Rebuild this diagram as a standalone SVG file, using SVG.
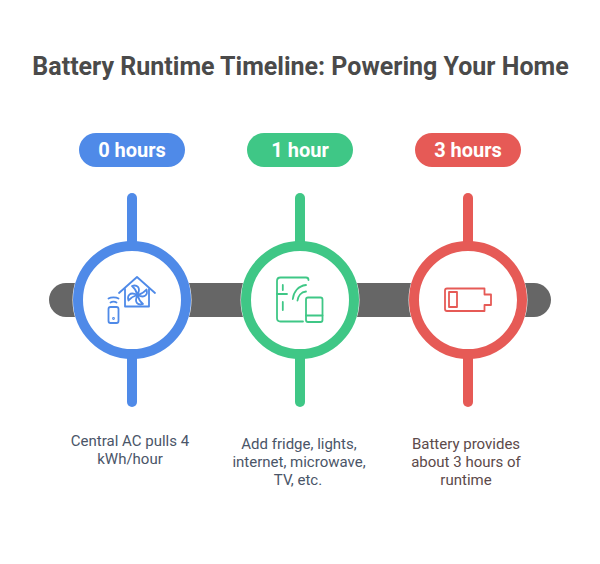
<svg xmlns="http://www.w3.org/2000/svg" width="600" height="564" viewBox="0 0 600 564">
<style>
text{font-family:Roboto,"Liberation Sans",sans-serif;text-anchor:middle}
.title{font-size:25px;font-weight:700;fill:#4a4a4a}
.pill{font-size:20px;font-weight:700;fill:#fff}
.d{font-size:15px}
.ic{fill:none;stroke-width:1.8;stroke-linecap:round;stroke-linejoin:round}
.ring{fill:#fff;stroke-width:10}
.stem{stroke-width:10;stroke-linecap:round}
.halo{fill:#fff}
</style>
<defs><path id="blade" d="M0 0C-1 -4 -3 -7 -5.500 -9C-1 -10.500 4 -8 0 0Z"/></defs>
<rect width="600" height="564" fill="#fff"/>
<text class="title" x="300.500" y="74.500">Battery Runtime Timeline: Powering Your Home</text>
<g id="connectors">
<rect x="49" y="283" width="502" height="34" rx="17" fill="#666"/>
<circle class="halo" cx="132" cy="300" r="59.500"/>
<circle class="halo" cx="300" cy="300" r="59.500"/>
<circle class="halo" cx="468" cy="300" r="59.500"/>
<line class="stem" x1="132" y1="198" x2="132" y2="402" stroke="#4f8ae8"/>
<line class="stem" x1="300" y1="198" x2="300" y2="402" stroke="#3fc786"/>
<line class="stem" x1="468" y1="198" x2="468" y2="402" stroke="#e65a56"/>
</g>
<g id="node-0">
<circle class="ring" cx="132" cy="300" r="54" stroke="#4f8ae8"/>
<rect x="79" y="133" width="106" height="34" rx="17" fill="#4f8ae8"/>
<text class="pill" x="132" y="157">0 hours</text>
<g class="ic" stroke="#4f8ae8">
<path d="M119 293L137 277L155 293"/>
<path d="M125 289V306.500H149V289"/>
<use href="#blade" transform="translate(137.500 295)"/>
<use href="#blade" transform="translate(137.500 295) rotate(90)"/>
<use href="#blade" transform="translate(137.500 295) rotate(180)"/>
<use href="#blade" transform="translate(137.500 295) rotate(270)"/>
<rect x="108.500" y="307" width="10" height="16" rx="2"/>
<path d="M110.500 302.500C112 301.500 115 301.500 116.500 302.500M108.500 298.500C111 297 116 297 118.500 298.500"/>
<circle cx="113.500" cy="318.500" r=".5"/>
</g>
<text class="d" x="130" y="446" fill="#4a5568">Central AC pulls 4</text>
<text class="d" x="130" y="464" fill="#4a5568">kWh/hour</text>
</g>
<g id="node-1">
<circle class="ring" cx="300" cy="300" r="54" stroke="#3fc786"/>
<rect x="247" y="133" width="106" height="34" rx="17" fill="#3fc786"/>
<text class="pill" x="300" y="157">1 hour</text>
<g class="ic" stroke="#3fc786">
<path d="M308.500 280C308.500 278.500 307.500 277.500 306 277.500H280.500C278.500 277.500 277 279 277 281V318C277 320 278.500 321.500 280.500 321.500H303"/>
<path d="M277 294H287"/>
<path d="M282.800 285V290M282.800 302V310"/>
<path d="M292.800 299C293.500 292 298 286 306 285M297.500 300.500C298 296 301 292 306 291.500"/>
<rect x="306" y="297.500" width="16.500" height="24.500" rx="2"/>
<path d="M306 315.500H322.500"/>
</g>
<text class="d" x="299" y="449" fill="#4a5568">Add fridge, lights,</text>
<text class="d" x="299" y="467" fill="#4a5568">internet, microwave,</text>
<text class="d" x="298" y="485" fill="#4a5568">TV, etc.</text>
</g>
<g id="node-2">
<circle class="ring" cx="468" cy="300" r="54" stroke="#e65a56"/>
<rect x="415" y="133" width="106" height="34" rx="17" fill="#e65a56"/>
<text class="pill" x="468" y="157">3 hours</text>
<g class="ic" stroke="#e65a56">
<path d="M447 288.500H484.500V294.500H491V305H484.500V311H447C445.500 311 445 310 445 309V290.500C445 289 445.500 288.500 447 288.500Z"/>
<rect x="449" y="292" width="8" height="15"/>
</g>
<text class="d" x="466" y="449" fill="#5c4a4a">Battery provides</text>
<text class="d" x="466" y="467" fill="#5c4a4a">about 3 hours of</text>
<text class="d" x="466" y="485" fill="#5c4a4a">runtime</text>
</g>
</svg>
